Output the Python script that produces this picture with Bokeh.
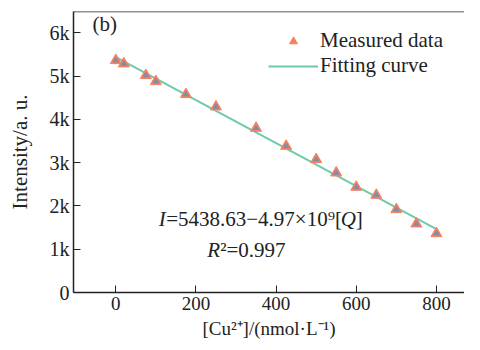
from bokeh.plotting import figure
from bokeh.models import (ColumnDataSource, Legend, LegendItem, Label, Span,
                          FixedTicker, Range1d)
from bokeh.embed import file_html
from bokeh.resources import INLINE

# ---- data ----
conc = [0, 20, 75, 100, 175, 250, 350, 425, 500, 550, 600, 650, 700, 750, 800]
intensity = [5360, 5284, 5014, 4875, 4575, 4290, 3797, 3381, 3073, 2765, 2434, 2249, 1918, 1587, 1363]
fit_x = [0, 800]
fit_y = [5438.63, 1462.63]
x_ticks = [0, 200, 400, 600, 800]
y_ticks = [0, 1000, 2000, 3000, 4000, 5000, 6000]
y_tick_labels = ["0", "1k", "2k", "3k", "4k", "5k", "6k"]

FONT = "Liberation Serif"
TXT = "#222222"
Y_END = 6490

p = figure(width=464, height=341, output_backend="svg", toolbar_location=None,
           x_range=Range1d(-105.5, 870), y_range=Range1d(0, Y_END),
           min_border_left=73, min_border_right=0, min_border_top=11, min_border_bottom=49)
p.outline_line_color = None
p.xgrid.visible = False
p.ygrid.visible = False
p.background_fill_color = "white"

src = ColumnDataSource(dict(x=conc, y=intensity))
line = p.line(fit_x, fit_y, line_color="#6fcaa8", line_width=2)
tri = p.scatter("x", "y", source=src, marker="triangle", size=11,
                fill_color="#f4805f", line_color="#f4805f")
p.scatter("x", "y", source=src, marker="triangle", size=5,
          fill_color="#7c8db5", line_color="#7c8db5")

# axes
xa = p.xaxis[0]
xa.ticker = FixedTicker(ticks=x_ticks)
ya = p.yaxis[0]
ya.ticker = FixedTicker(ticks=y_ticks)
ya.major_label_overrides = {t: l for t, l in zip(y_ticks, y_tick_labels)}
for ax in (xa, ya):
    ax.major_tick_in = 7
    ax.major_tick_out = 0
    ax.minor_tick_line_color = None
    ax.axis_line_color = "#222222"
    ax.axis_line_width = 1.5
    ax.major_tick_line_color = "#222222"
    ax.major_label_text_font = FONT
    ax.major_label_text_color = TXT
    ax.axis_label_text_font = FONT
    ax.axis_label_text_font_style = "normal"
    ax.axis_label_text_color = TXT
xa.major_label_text_font_size = "19px"
xa.axis_label_text_font_size = "19px"
ya.major_label_text_font_size = "20px"
ya.axis_label_text_font_size = "21px"
xa.axis_label = "[Cu²⁺]/(nmol·L⁻¹)"
ya.axis_label = "Intensity/a. u."
xa.major_label_standoff = 4
ya.major_label_standoff = 4
xa.axis_label_standoff = 5
ya.axis_label_standoff = 15

p.add_layout(Span(location=Y_END, dimension="width", line_color="#222222", line_width=1.5))

legend = Legend(items=[LegendItem(label="Measured data", renderers=[tri]),
                       LegendItem(label="Fitting curve", renderers=[line])],
                location=(195, 214), glyph_width=50, glyph_height=20, label_height=20,
                spacing=-3, padding=0, margin=0, label_standoff=2,
                border_line_color=None, background_fill_alpha=0,
                label_text_font=FONT, label_text_font_size="21px", label_text_color=TXT)
p.add_layout(legend, "center")

def lab(text, x, y, xoff=0, style="normal"):
    p.add_layout(Label(x=x, y=y, x_offset=xoff, text=text, text_font=FONT,
                       text_font_size="21px", text_font_style=style, text_color=TXT,
                       text_baseline="middle", text_align="left"))

lab("(b)", -58, 6192)
lab("I", 107, 1687, 0, "italic")
lab("=5438.63−4.97×10⁹[", 107, 1687, 7.5)
lab("Q", 107, 1687, 182, "italic")
lab("]", 107, 1687, 197)
lab("R", 228, 993, 0, "italic")
lab("²=0.997", 228, 993, 13)

open("out.html", "w").write(file_html(p, INLINE))
